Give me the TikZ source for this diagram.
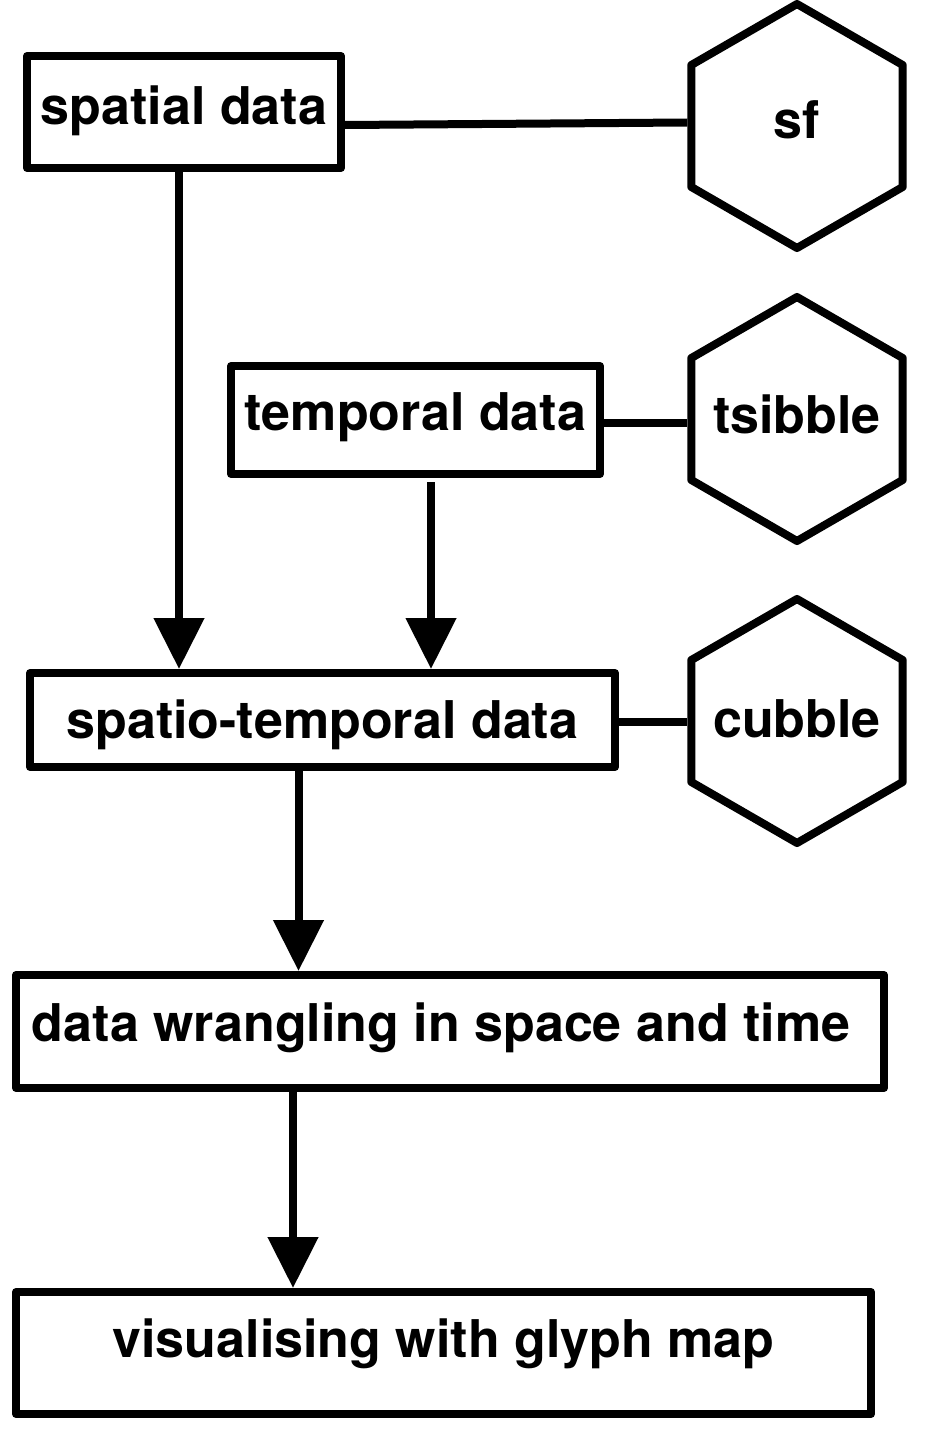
\documentclass[tikz,border=0pt]{standalone}
\usepackage{fontspec}
\setmainfont{TeX Gyre Heros}
\usetikzlibrary{shapes.geometric,arrows.meta}
\begin{document}
\begin{tikzpicture}[x=1pt,y=-1pt,
  every node/.style={font=\fontsize{52}{60}\selectfont\bfseries},
  box/.style 2 args={draw, line width=8pt, line join=round, inner sep=0pt,
    minimum width=#1, minimum height=#2},
  bl/.style={text height=#1, text depth=0pt},
  hexa/.style={draw, line width=8pt, line join=round, regular polygon,
    regular polygon sides=6, shape border rotate=30, minimum size=244pt, inner sep=0pt},
  arr/.style={line width=8pt, -{Triangle[length=51pt,width=49pt]}},
  link/.style={line width=8pt}
]
\useasboundingbox (0,0) rectangle (929,1440);

% boxes
\node[box={314pt}{112pt}, bl=24pt] (sp)  at (184,112)    {spatial data};
\node[box={369pt}{108pt}, bl=20pt] (tmp) at (415.5,420)  {temporal data};
\node[box={585pt}{94pt},  bl=36pt] (spt) at (322.5,720)  {spatio-temporal data};
\node[box={868pt}{113pt}, bl=19pt] (wr)  at (450,1031.5) {\makebox[0pt]{\hspace*{-18pt}data wrangling in space and time}};
\node[box={855pt}{122pt}, bl=8pt]  (vis) at (443.5,1353) {visualising with glyph map};

% hexagons
\node[hexa, bl=24pt] (sf)  at (797,126) {\makebox[0pt]{sf}};
\node[hexa, bl=28pt] (tsb) at (797,419) {\makebox[0pt]{tsibble}};
\node[hexa, bl=32pt] (cub) at (797,721) {\makebox[0pt]{cubble}};

% links
\draw[link] ([yshift=-13pt]sp.east) -- ([yshift=3.5pt]sf.180);
\draw[link] ([yshift=-3pt]tmp.east) -- ([yshift=-3pt]tmp.east -| tsb.180);
\draw[link] ([yshift=-2pt]spt.east) -- ([yshift=-2pt]spt.east -| cub.180);

% arrows
\draw[arr] ([xshift=-5pt]sp.south) -- ([xshift=-5pt]sp.south |- spt.north);
\draw[arr] ([xshift=15.5pt,yshift=-4pt]tmp.south) -- ([xshift=15.5pt]tmp.south |- spt.north);
\draw[arr] ([xshift=-24pt]spt.south) -- ([xshift=-24pt]spt.south |- wr.north);
\draw[arr] ([xshift=-157pt]wr.south) -- ([xshift=-157pt]wr.south |- vis.north);
\end{tikzpicture}
\end{document}
